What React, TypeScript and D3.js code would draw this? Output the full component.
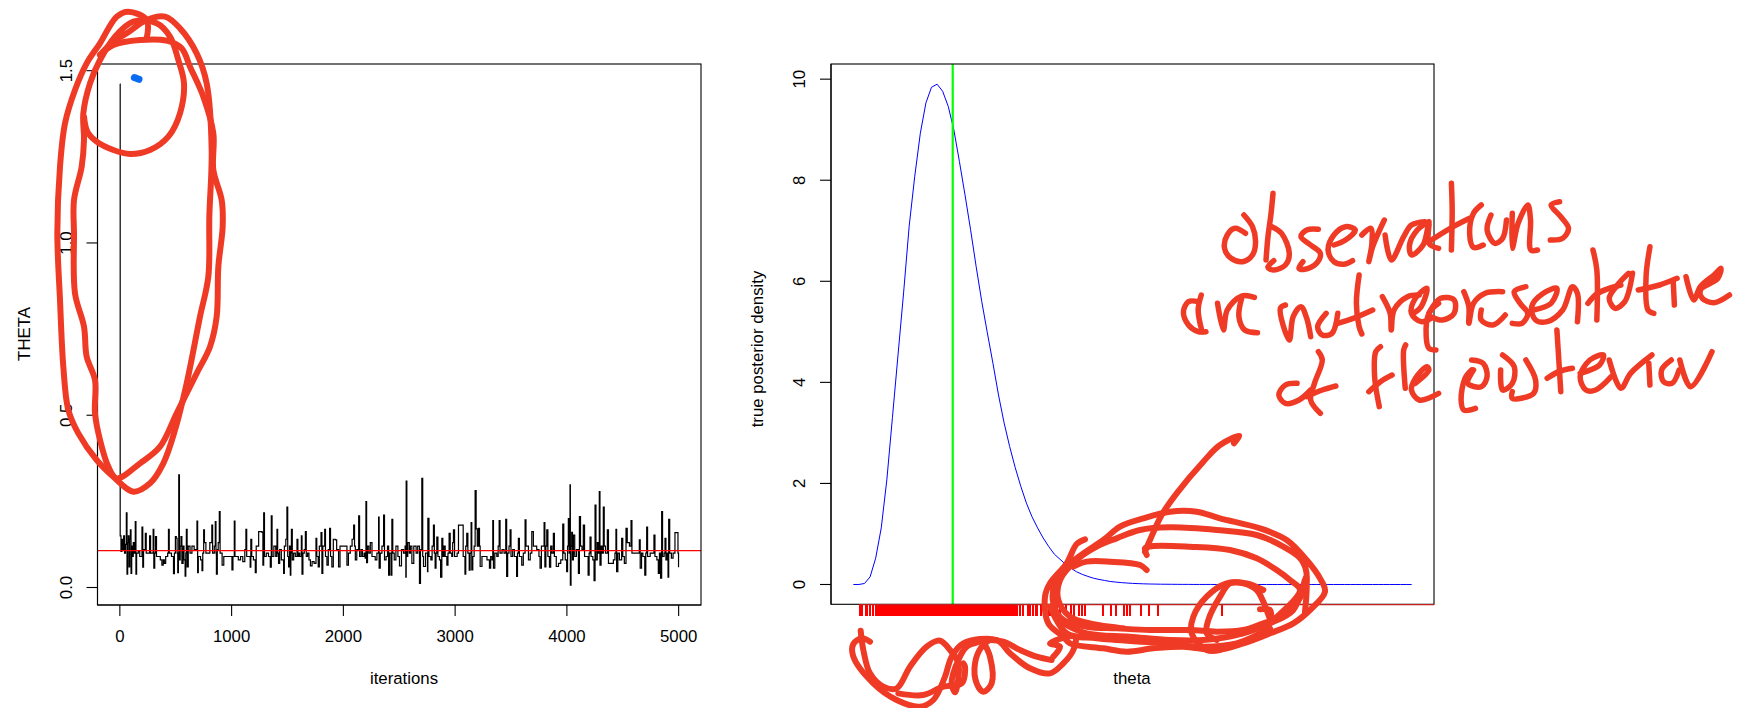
import React, { useEffect, useRef } from "react";
import * as d3 from "d3";

type Pt = [number, number];

// MCMC trace: [iteration, theta]
const traceSteps: Pt[] = [[0,1.461],[3,.15],[10,.105],[18,.14],[26,.11],[34,.15],[42,.1],[50,.125],[58,.217],[64,.039],[70,.13],[76,.15],[82,.06],[88,.14],[94,.167],[100,.041],[106,.12],[114,.09],[120,.13],[130,.1],[138,.191],[144,.039],[150,.1],[165,.105],[178,.09],[192,.09],[198,.175],[205,.059],[212,.11],[228,.157],[236,.1],[252,.1],[266,.15],[275,.1],[290,.1],[298,.169],[304,.056],[312,.1],[319,.148],[328,.09],[345,.09],[362,.08],[376,.065],[388,.08],[398,.07],[410,.09],[428,.1],[435,.169],[442,.1],[462,.09],[480,.04],[488,.1],[497,.148],[505,.143],[512,.1],[518,.043],[524,.1],[527,.327],[533,.08],[540,.12],[547,.148],[555,.07],[566,.12],[574,.08],[584,.033],[590,.1],[595,.169],[602,.06],[612,.12],[628,.1],[645,.12],[665,.11],[682,.11],[690,.193],[696,.043],[702,.09],[722,.08],[735,.049],[742,.1],[750,.167],[757,.13],[770,.1],[785,.1],[805,.13],[823,.181],[830,.1],[845,.12],[854,.191],[860,.1],[864,.039],[872,.11],[880,.13],[890,.22],[897,.1],[908,.1],[915,.065],[930,.09],[955,.09],[985,.09],[1003,.051],[1012,.09],[1024,.193],[1030,.09],[1060,.08],[1080,.09],[1100,.075],[1118,.11],[1128,.169],[1135,.09],[1150,.09],[1166,.059],[1172,.14],[1180,.09],[1195,.08],[1212,.043],[1220,.12],[1242,.162],[1272,.16],[1280,.065],[1287,.217],[1294,.09],[1310,.1],[1330,.09],[1346,.059],[1355,.208],[1362,.09],[1378,.12],[1395,.09],[1406,.169],[1412,.1],[1420,.07],[1430,.11],[1445,.08],[1465,.041],[1472,.12],[1485,.14],[1495,.233],[1502,.09],[1510,.06],[1518,.12],[1525,.036],[1530,.1],[1535,.169],[1543,.08],[1555,.1],[1570,.09],[1585,.14],[1593,.09],[1602,.1],[1610,.09],[1624,.15],[1630,.039],[1638,.1],[1650,.11],[1660,.162],[1668,.09],[1680,.1],[1692,.08],[1705,.063],[1720,.075],[1738,.07],[1755,.143],[1762,.09],[1775,.06],[1785,.12],[1800,.159],[1808,.041],[1816,.12],[1833,.169],[1840,.09],[1853,.065],[1865,.11],[1877,.172],[1885,.09],[1897,.06],[1910,.14],[1928,.138],[1940,.11],[1957,.06],[1970,.12],[1988,.12],[2010,.12],[2032,.065],[2045,.1],[2062,.12],[2078,.14],[2092,.181],[2100,.12],[2107,.08],[2120,.11],[2137,.208],[2145,.09],[2158,.11],[2170,.09],[2185,.1],[2195,.085],[2202,.249],[2208,.072],[2216,.12],[2228,.1],[2241,.13],[2256,.09],[2271,.09],[2285,.08],[2300,.1],[2315,.204],[2320,.056],[2330,.1],[2345,.12],[2360,.21],[2368,.08],[2382,.09],[2395,.12],[2405,.036],[2414,.1],[2428,.036],[2434,.198],[2442,.1],[2455,.08],[2470,.12],[2488,.09],[2502,.063],[2520,.11],[2538,.1],[2552,.12],[2559,.03],[2562,.309],[2568,.09],[2576,.13],[2590,.1],[2600,.12],[2613,.07],[2630,.12],[2651,.1],[2665,.12],[2681,.012],[2690,.11],[2702,.317],[2710,.09],[2717,.061],[2735,.1],[2753,.046],[2756,.201],[2766,.09],[2783,.08],[2794,.12],[2806,.181],[2814,.1],[2821,.056],[2829,.1],[2836,.146],[2846,.09],[2860,.08],[2870,.03],[2881,.143],[2890,.09],[2900,.12],[2911,.09],[2926,.065],[2936,.1],[2946,.157],[2956,.1],[2970,.09],[2978,.13],[2985,.167],[2995,.09],[3006,.09],[3018,.1],[3030,.181],[3060,.181],[3072,.09],[3088,.039],[3095,.12],[3104,.157],[3114,.1],[3126,.05],[3134,.1],[3143,.188],[3149,.051],[3158,.09],[3170,.12],[3179,.281],[3188,.17],[3198,.12],[3209,.172],[3218,.12],[3224,.061],[3240,.09],[3260,.09],[3285,.08],[3307,.056],[3318,.09],[3330,.08],[3337,.194],[3343,.056],[3355,.1],[3373,.09],[3385,.12],[3394,.194],[3402,.1],[3420,.11],[3438,.1],[3453,.198],[3461,.032],[3470,.1],[3482,.12],[3492,.167],[3500,.09],[3515,.11],[3530,.09],[3550,.032],[3558,.1],[3566,.143],[3575,.09],[3596,.065],[3610,.1],[3626,.196],[3634,.12],[3656,.08],[3672,.1],[3686,.162],[3700,.12],[3730,.11],[3750,.09],[3760,.056],[3772,.12],[3796,.188],[3803,.06],[3812,.12],[3820,.167],[3830,.09],[3844,.059],[3855,.12],[3866,.1],[3879,.157],[3888,.09],[3905,.061],[3925,.07],[3945,.08],[3963,.184],[3972,.1],[3985,.08],[3998,.046],[4006,.12],[4013,.2],[4020,.1],[4028,.298],[4031,.007],[4037,.12],[4043,.16],[4050,.08],[4058,.152],[4070,.09],[4085,.11],[4103,.041],[4112,.206],[4122,.12],[4135,.11],[4147,.181],[4158,.09],[4177,.09],[4190,.036],[4199,.1],[4207,.146],[4216,.09],[4232,.08],[4243,.02],[4252,.239],[4260,.08],[4272,.13],[4282,.1],[4290,.278],[4296,.065],[4306,.12],[4316,.1],[4326,.233],[4334,.12],[4345,.1],[4362,.167],[4372,.07],[4390,.07],[4416,.08],[4430,.1],[4439,.169],[4445,.046],[4456,.1],[4470,.08],[4490,.143],[4500,.09],[4514,.07],[4529,.172],[4540,.13],[4560,.12],[4574,.194],[4582,.1],[4600,.1],[4620,.1],[4639,.1],[4648,.138],[4656,.056],[4668,.1],[4680,.09],[4697,.036],[4706,.1],[4714,.175],[4722,.09],[4745,.1],[4765,.1],[4779,.152],[4788,.09],[4805,.08],[4818,.041],[4828,.1],[4838,.027],[4848,.22],[4856,.09],[4870,.1],[4878,.143],[4886,.08],[4896,.1],[4905,.03],[4911,.198],[4920,.1],[4935,.085],[4950,.1],[4967,.159],[4988,.159],[4994,.1],[4999,.059]];
const trueTheta = 0.107;

// true posterior density on theta = 0, 0.01, ... 1
const densityValues = [0,0,.02,.15,.52,1.12,2.07,3.3,4.54,5.77,7.09,8.08,8.93,9.53,9.84,9.9,9.76,9.46,9,8.37,7.71,7.02,6.29,5.6,4.98,4.38,3.75,3.2,2.73,2.31,1.94,1.61,1.34,1.12,.92,.75,.6,.5,.4,.32,.25,.2,.16,.125,.1,.08,.06,.048,.037,.029,.022,.017,.013,.01,.008,.006,.005,.004,.003,.002,.002,.001,.001,.001,.001,0,0,0,0,0,0,0,0,0,0,0,0,0,0,0,0,0,0,0,0,0,0,0,0,0,0,0,0,0,0,0,0,0,0,0,0];
const greenTheta = 0.178;

// rug of observations
const rugTheta = [.012,.016,.022,.025,.03,.035,.041,.044,.048,.05,.052,.054,.056,.059,.061,.063,.065,.067,.07,.072,.074,.076,.078,.081,.083,.085,.087,.089,.092,.094,.096,.098,.1,.103,.105,.107,.109,.111,.114,.116,.118,.12,.122,.125,.127,.129,.131,.133,.136,.138,.14,.142,.144,.147,.149,.151,.153,.155,.158,.16,.162,.164,.166,.169,.171,.173,.175,.177,.18,.182,.184,.186,.188,.191,.193,.195,.197,.199,.202,.204,.206,.208,.21,.213,.215,.217,.219,.221,.224,.226,.228,.23,.232,.235,.237,.239,.241,.243,.246,.248,.25,.252,.254,.257,.259,.261,.263,.265,.268,.27,.272,.274,.276,.279,.281,.283,.285,.287,.29,.292,.294,.298,.304,.312,.316,.322,.327,.329,.337,.344,.35,.354,.358,.361,.365,.37,.38,.39,.395,.404,.409,.415,.447,.462,.471,.484,.491,.495,.515,.529,.545,.661];

const leftXTicks = [0, 1000, 2000, 3000, 4000, 5000];
const leftYTicks = [0, 0.5, 1, 1.5];
const rightYTicks = [0, 2, 4, 6, 8, 10];

// freehand pen annotations, in the pixel space of the crop each one was traced from
const loopStrokes: Pt[][] = [
  [[440,115],[440,60],[385,35],[350,50],[300,130],[260,190],[225,270],[195,370],[180,500],[172,700],[180,900],[190,1100],[205,1230],[235,1300],[290,1380],[340,1430],[400,1475],[450,1450],[490,1390],[525,1290],[560,1150],[600,950],[625,830],[628,650],[635,450],[620,250],[590,160],[540,85],[495,50],[440,60],[380,100],[340,125],[300,165]],
  [[300,165],[340,135],[420,120],[500,122],[545,145],[570,200],[610,290],[640,400],[640,510],[665,600],[668,680],[655,800],[650,950],[630,1040],[590,1120],[530,1240],[480,1340],[420,1390],[350,1435],[325,1400],[300,1320],[285,1240],[285,1140],[260,1070],[252,980],[225,880],[222,700],[222,600],[245,500],[252,420],[250,340],[270,250],[300,180],[345,110],[400,65],[470,70],[510,110],[535,180],[552,250],[540,340],[505,410],[450,450],[390,462],[340,450],[290,425],[262,395],[252,350]],
];
const blueDot: Pt[] = [[403,233],[412,236],[417,238]];

const squiggleStrokes: Pt[][] = [
  [[92,212],[100,270],[120,340],[160,380],[200,385],[240,320],[290,260],[330,242],[360,270],[385,310],[380,385],[375,397],[365,370],[385,300],[410,260],[450,245],[475,240],[520,245],[570,270],[620,290],[665,300]],
  [[480,240],[455,260],[435,310],[440,370],[460,395],[485,370],[480,290],[460,245]],
  [[120,245],[95,235],[70,252],[70,290],[130,370],[200,420],[270,440],[310,420],[345,350],[365,290],[400,250],[500,240],[540,280],[600,325],[660,340],[700,310],[730,270],[735,230],[660,250],[690,260],[670,290]],
  [[205,400],[280,405],[340,380],[395,370],[405,320],[400,310]],
];

const bigLoopStrokes: Pt[][] = [
  [[165,358],[140,372],[110,430],[60,490],[45,530],[55,610],[100,650],[120,670],[220,685],[290,695],[370,685],[460,680],[560,690],[640,670],[720,640],[790,610],[840,570],[885,515],[870,475],[830,420],[770,360],[690,325],[570,295],[500,275],[420,275],[340,295],[270,320],[220,360],[160,400],[110,440],[75,490],[70,550],[100,600],[170,620],[260,625],[360,630],[480,630],[560,635],[640,630],[700,610],[760,590],[800,550],[830,480],[815,420],[760,380],[680,345],[560,330],[420,322],[330,330],[260,355],[200,380],[140,420],[90,480],[85,540],[120,590],[180,610],[280,625]],
  [[100,610],[170,640],[300,650],[420,660],[520,660],[640,640],[720,610],[790,570],[830,470],[825,575]],
  [[60,560],[110,640],[200,655],[380,668],[520,680],[620,670],[720,625]],
  [[350,405],[345,385],[370,378],[480,380],[600,390],[680,415],[740,450],[780,480],[810,510],[730,600]],
  [[350,450],[330,435],[240,425],[170,425],[130,440]],
  [[612,70],[628,48],[570,75],[520,125],[440,220],[395,285],[360,360],[345,395]],
  [[690,568],[720,570],[722,600],[700,545],[680,510],[640,490],[590,490],[530,530],[490,590],[485,640],[530,690],[570,690]],
  [[700,510],[650,490],[600,490],[570,530],[535,600],[530,640],[560,660]],
];

const writingStrokes: Pt[][] = [
  // observations
  [[268,135],[290,170],[298,215],[290,255],[265,275],[235,265],[218,235],[225,195],[245,175],[272,190]],
  [[343,70],[338,130],[330,200],[325,270]],
  [[340,170],[365,190],[385,250],[375,285],[345,300],[330,292],[345,272]],
  [[460,178],[430,180],[415,200],[440,225],[465,250],[455,280],[425,298],[410,295],[420,275]],
  [[500,225],[530,210],[555,180],[530,170],[500,195],[485,240],[500,275],[525,283],[548,272]],
  [[572,195],[595,175],[598,220],[590,275],[600,230],[630,150]],
  [[632,195],[648,270],[680,200],[700,165],[735,155]],
  [[745,155],[715,180],[695,225],[700,255],[730,225],[745,160],[745,220],[770,235]],
  [[803,40],[805,120],[803,240]],
  [[745,215],[800,175],[850,145]],
  [[880,105],[860,130],[850,190],[860,232],[885,225]],
  [[905,135],[895,180],[915,220],[935,205],[945,150]],
  [[960,130],[960,235],[975,160],[1000,105],[1007,150],[1008,240],[1025,240]],
  [[1082,95],[1060,105],[1085,140],[1105,175],[1090,205],[1058,210]],
  // are not representative
  [[150,395],[125,395],[112,425],[125,465],[150,485],[170,485]],
  [[158,375],[150,420],[160,485]],
  [[200,400],[215,480],[225,420],[262,378],[295,382]],
  [[262,385],[255,440],[270,480],[303,488]],
  [[375,405],[362,415],[385,510],[395,440],[415,410],[430,445],[440,500]],
  [[480,430],[458,470],[470,495],[495,490],[510,430]],
  [[565,315],[558,400],[565,470],[572,492]],
  [[510,460],[550,445],[600,420]],
  [[625,380],[645,430],[648,480],[655,420],[690,380],[720,375]],
  [[705,430],[725,410],[740,355],[710,385],[700,430],[725,455],[750,445]],
  [[770,400],[745,430],[738,500],[745,535],[763,540]],
  [[745,430],[775,385],[810,390],[810,430],[780,450],[750,440]],
  [[835,365],[848,410],[848,460],[860,400],[890,370],[935,365]],
  [[880,420],[880,450],[910,465],[942,435]],
  [[995,350],[965,365],[980,400],[1000,430],[985,460],[960,460]],
  [[1015,420],[1060,400],[1075,355],[1040,370],[1010,410],[1020,450],[1050,455],[1090,420],[1115,350],[1128,370],[1128,455]],
  [[1155,400],[1180,370],[1240,345]],
  [[1168,240],[1178,300],[1178,450]],
  [[1260,310],[1235,340],[1210,385],[1225,415],[1250,395],[1270,310]],
  [[1315,230],[1305,320],[1310,420],[1325,430]],
  [[1285,360],[1340,345],[1385,325]],
  [[1375,335],[1378,405]],
  [[1408,320],[1428,390],[1445,350],[1480,315],[1498,295],[1490,325],[1445,360],[1450,385],[1480,398],[1520,375]],
  // of the posterior
  [[405,640],[375,645],[358,675],[375,700],[410,690],[440,660]],
  [[460,545],[470,570],[450,640],[440,690],[465,730]],
  [[430,680],[470,660],[505,648]],
  [[620,530],[608,545],[605,620],[617,710]],
  [[590,665],[620,635],[650,615]],
  [[685,525],[680,540],[684,655]],
  [[710,640],[745,600],[740,590],[710,625],[700,660],[720,690],[770,670]],
  [[855,600],[838,625],[828,690],[835,720],[865,715]],
  [[855,570],[885,580],[895,620],[880,650],[845,640],[860,600]],
  [[935,555],[965,590],[960,640],[935,660],[930,600]],
  [[995,570],[1020,630],[1015,670],[960,685],[960,665]],
  [[1075,480],[1080,570],[1085,665]],
  [[1050,625],[1080,605],[1115,595]],
  [[1135,610],[1185,585],[1195,555],[1160,570],[1135,620],[1150,660],[1175,660],[1215,620]],
  [[1210,570],[1240,655],[1265,610],[1320,555]],
  [[1312,580],[1315,645]],
  [[1370,570],[1345,600],[1350,635],[1372,640],[1390,600]],
  [[1392,570],[1420,650],[1475,545]],
];

const FONT = "'Liberation Sans', Arial, sans-serif";
const PEN = "#ef3b26";

const App = () => {
  const svgRef = useRef<SVGSVGElement>(null);

  useEffect(() => {
    const svg = d3.select(svgRef.current);
    svg.selectAll("*").remove();

    const styleAxis = (g: any) => {
      g.selectAll("text").attr("font-family", FONT).attr("font-size", 16.8).attr("fill", "#000");
      g.selectAll("line").attr("stroke", "#000").attr("stroke-width", 1.1);
      g.select(".domain").attr("stroke", "#000").attr("stroke-width", 1.1);
    };

    const yAxis = (scale: any, ticks: number[], at: number, fmt: (d: number) => string) => {
      const g = svg.append("g")
        .attr("transform", `translate(${at},0)`)
        .call(d3.axisLeft(scale).tickValues(ticks).tickFormat(fmt).tickSize(11).tickSizeOuter(0).tickPadding(14).offset(0));
      styleAxis(g);
      // R draws the y labels rotated
      g.selectAll("text")
        .attr("text-anchor", "middle")
        .attr("x", null)
        .attr("dy", null)
        .attr("transform", "translate(-26,0) rotate(-90)");
    };

    const label = (text: string, x: number, y: number, rotate = false) => {
      svg.append("text")
        .attr("text-anchor", "middle")
        .attr("font-family", FONT)
        .attr("font-size", 16.8)
        .attr("transform", `translate(${x},${y})${rotate ? " rotate(-90)" : ""}`)
        .text(text);
    };

    // left panel: trace
    const x1 = d3.scaleLinear().domain([-200, 5200]).range([97.5, 701]);
    const y1 = d3.scaleLinear().domain([-0.0508, 1.5194]).range([605, 64]);

    svg.append("path")
      .attr("d", d3.line().x((d) => x1(d[0])).y((d) => y1(d[1])).curve(d3.curveStepAfter)(traceSteps))
      .attr("fill", "none")
      .attr("stroke", "#000")
      .attr("stroke-width", 1.2);

    svg.append("line")
      .attr("x1", x1.range()[0]).attr("x2", x1.range()[1])
      .attr("y1", y1(trueTheta)).attr("y2", y1(trueTheta))
      .attr("stroke", "#ff0000").attr("stroke-width", 1.2);

    svg.append("rect")
      .attr("x", x1.range()[0]).attr("y", 64)
      .attr("width", x1.range()[1] - x1.range()[0]).attr("height", 541)
      .attr("fill", "none").attr("stroke", "#000").attr("stroke-width", 1.1);

    const gx1 = svg.append("g")
      .attr("transform", "translate(0,605)")
      .call(d3.axisBottom(x1).tickValues(leftXTicks).tickFormat(d3.format("d") as any).tickSize(11).tickSizeOuter(0).tickPadding(14).offset(0));
    styleAxis(gx1);
    yAxis(y1, leftYTicks, 97.5, d3.format(".1f"));
    label("iterations", 404, 684);
    label("THETA", 30, 334, true);

    // right panel: density
    const x2 = d3.scaleLinear().domain([-0.04, 1.04]).range([831, 1434]);
    const y2 = d3.scaleLinear().domain([-0.392, 10.3]).range([604.3, 64]);

    const densPts: Pt[] = densityValues.map((d, i) => [i / 100, d]);
    svg.append("path")
      .attr("d", d3.line().x((d) => x2(d[0])).y((d) => y2(d[1]))(densPts))
      .attr("fill", "none")
      .attr("stroke", "#0000ff")
      .attr("stroke-width", 1);

    svg.append("line")
      .attr("x1", x2(greenTheta)).attr("x2", x2(greenTheta))
      .attr("y1", 64).attr("y2", 604.3)
      .attr("stroke", "#00ff00").attr("stroke-width", 2.2);

    svg.append("rect")
      .attr("x", 831).attr("y", 64)
      .attr("width", 603).attr("height", 540.3)
      .attr("fill", "none").attr("stroke", "#000").attr("stroke-width", 1.1);

    svg.append("g").selectAll("line")
      .data(rugTheta)
      .join("line")
      .attr("x1", (d) => x2(d)).attr("x2", (d) => x2(d))
      .attr("y1", 604.3).attr("y2", 616)
      .attr("stroke", "#ff0000").attr("stroke-width", 2)
      .attr("shape-rendering", "crispEdges");
    svg.append("line")
      .attr("x1", x2(rugTheta[0])).attr("x2", 1434)
      .attr("y1", 604.6).attr("y2", 604.6)
      .attr("stroke", "#c02020").attr("stroke-width", 1.3);

    yAxis(y2, rightYTicks, 831, d3.format("d"));
    label("theta", 1132, 684);
    label("true posterior density", 763, 349, true);

    // pen annotations on top
    const pen = (strokes: Pt[][], ox: number, oy: number, kx: number, ky: number, color: string, width: number) => {
      const line = d3.line()
        .x((d) => ox + d[0] * kx)
        .y((d) => oy + d[1] * ky)
        .curve(d3.curveCatmullRom.alpha(0.5));
      svg.append("g").selectAll("path")
        .data(strokes)
        .join("path")
        .attr("d", (d) => line(d))
        .attr("fill", "none")
        .attr("stroke", color)
        .attr("stroke-width", width)
        .attr("stroke-linecap", "round")
        .attr("stroke-linejoin", "round");
    };
    pen(loopStrokes, 0, 0, 1 / 3, 1 / 3, PEN, 6);
    pen([blueDot], 0, 0, 1 / 3, 1 / 3, "#0a6cf0", 7);
    pen(squiggleStrokes, 830, 560, 1 / 3, 1 / 3, PEN, 6);
    pen(bigLoopStrokes, 1030, 420, 1 / 3, 1 / 3, PEN, 6);
    pen(writingStrokes, 1140, 170, 0.3878, 1 / 3, PEN, 5.5);
  }, []);

  return (
    <svg
      ref={svgRef}
      width={1748}
      height={708}
      style={{ position: "absolute", left: 0, top: 0, background: "#fff" }}
    />
  );
};

export default App;
